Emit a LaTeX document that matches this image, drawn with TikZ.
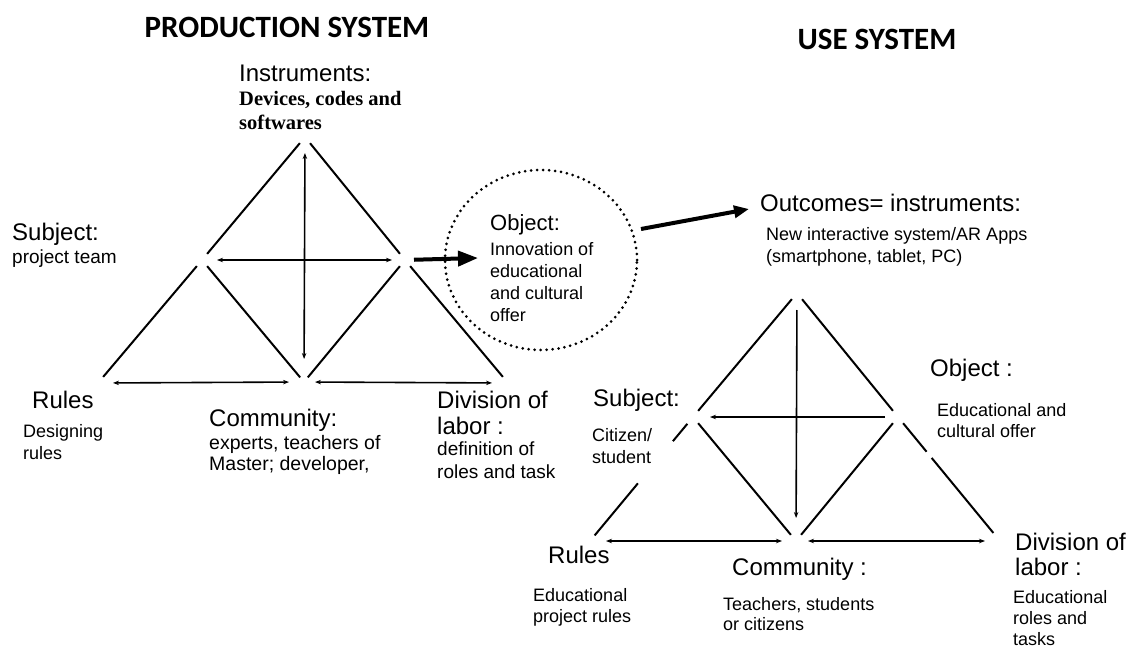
\documentclass[tikz,border=0pt]{standalone}
\usepackage{fontspec}
\setmainfont{Liberation Sans}
\newfontfamily\titlefont{Carlito}
\newfontfamily\timesfont{Liberation Serif}
\usetikzlibrary{arrows.meta,shapes.geometric,calc}
\begin{document}
\begin{tikzpicture}[x=1pt,y=-1pt,
  edge/.style={line width=2pt, shorten <=8pt, shorten >=8pt},
  seg/.style={line width=2pt},
  tip/.tip={Stealth[length=6pt,width=4.5pt]},
  dbl/.style={line width=1.6pt, tip-tip},
  sgl/.style={line width=1.6pt, -tip},
  bigarrow/.style={line width=4pt, -{Triangle[length=20pt,width=15pt]}},
  medarrow/.style={line width=4pt, -{Triangle[length=15pt,width=12pt]}},
  dots/.style={draw, line width=3pt, dash pattern=on 0pt off 6pt, line cap=round},
  ttl/.style={font=\titlefont\bfseries\fontsize{31}{34}\selectfont, inner sep=0pt, anchor=base},
  head/.style={font=\fontsize{24}{26}\selectfont, inner sep=0pt, align=left, anchor=base west},
  desc/.style={font=\fontsize{18}{22}\selectfont, inner sep=0pt, align=left, anchor=base west},
  tdesc/.style={font=\timesfont\bfseries\fontsize{20.5}{24}\selectfont, inner sep=0pt, align=left, anchor=base west}
]
\useasboundingbox (0,0) rectangle (1131,650);
\fill[white] (0,0) rectangle (1131,650);

% titles
\node[ttl] (ptitle) at (287,38) {PRODUCTION SYSTEM};
\node[ttl] (utitle) at (877,50) {USE SYSTEM};

% ---------------- production system ----------------
\coordinate (LA) at (305,137);
\coordinate (LS) at (202,260);
\coordinate (LO) at (405,260);
\coordinate (LR) at (98,383);
\coordinate (LC) at (304,382);
\coordinate (LD) at (508,383);

\draw[edge] (LA) -- (LS);
\draw[edge] (LA) -- (LO);
\draw[edge] (LS) -- (LR);
\draw[edge, shorten >=6pt] (LS) -- (LC);
\draw[edge, shorten >=6pt] (LO) -- (LC);
\draw[edge] (LO) -- (LD);
\draw[dbl, shorten <=16pt, shorten >=23pt] (LA) -- (LC);
\draw[dbl, shorten <=15pt, shorten >=13pt] (LS) -- (LO);
\draw[dbl, shorten <=15pt, shorten >=15pt] (LR) -- (LC);
\draw[dbl, shorten <=11pt, shorten >=16pt] (LC) -- (LD);

\node[head] (Linst) at (239,82) {Instruments:};
\node[tdesc] (Linstd) at (239,129) {Devices, codes and\\softwares};
\node[head] (Lsubj) at (12,240) {Subject:};
\node[desc, font=\fontsize{19}{22}\selectfont] (Lsubjd) at (12,263) {project team};
\node[head] (Lrule) at (32,408) {Rules};
\node[desc] (Lruled) at (23,459) {Designing\\rules};
\node[head] (Lcomm) at (209,426) {Community:};
\node[desc, font=\fontsize{19.5}{21}\selectfont] (Lcommd) at (209,470) {experts, teachers of\\Master; developer,};
\node[head] (Ldiv) at (437,434) {Division of\\labor :};
\node[desc, font=\fontsize{19}{23}\selectfont] (Ldivd) at (437,478) {definition of\\roles and task};

% object circle
\node[dots, ellipse, minimum width=192pt, minimum height=180pt] (circ) at (541,260) {};
\node[desc, font=\fontsize{22}{26}\selectfont] (Cobj) at (490,230) {Object:};
\node[desc] (Cobjd) at (490,321) {Innovation of\\educational\\and cultural\\offer};
\coordinate (T1) at (478,258);
\draw[bigarrow, shorten <=9pt] (LO) -- (T1);
\coordinate (T2s) at (641,229);
\coordinate (T2e) at (749,209);
\draw[medarrow] (T2s) -- (T2e);

% ---------------- use system ----------------
\coordinate (RA) at (797,293);
\coordinate (RS) at (693,417);
\coordinate (RO) at (898,417);
\coordinate (RR) at (590,541);
\coordinate (RC) at (796,541);
\coordinate (RD) at (1000,541);

\draw[edge] (RA) -- (RS);
\draw[edge] (RA) -- (RO);
\draw[seg] ($(RS)!0.055!(RR)$) -- ($(RS)!0.195!(RR)$);
\draw[seg] ($(RS)!0.535!(RR)$) -- ($(RS)!0.955!(RR)$);
\draw[edge] (RS) -- (RC);
\draw[edge] (RO) -- (RC);
\draw[seg] ($(RO)!0.05!(RD)$) -- ($(RO)!0.28!(RD)$);
\draw[seg] ($(RO)!0.33!(RD)$) -- ($(RO)!0.935!(RD)$);
\draw[sgl, shorten <=17pt, shorten >=23pt] (RA) -- (RC);
\draw[sgl, shorten <=13pt, shorten >=17pt] (RO) -- (RS);
\draw[dbl, shorten <=16pt, shorten >=14pt] (RR) -- (RC);
\draw[dbl, shorten <=12pt, shorten >=15pt] (RC) -- (RD);

\node[head] (Rout) at (760,211) {Outcomes= instruments:};
\node[desc] (Routd) at (766,262) {New interactive system/AR Apps\\(smartphone, tablet, PC)};
\node[head] (Rsubj) at (593,406) {Subject:};
\node[desc] (Rsubjd) at (592,463) {Citizen/\\student};
\node[head] (Robj) at (930,376) {Object :};
\node[desc, font=\fontsize{18}{21}\selectfont] (Robjd) at (937,437) {Educational and\\cultural offer};
\node[head] (Rrule) at (548,563) {Rules};
\node[desc, font=\fontsize{18}{21}\selectfont] (Rruled) at (533,622) {Educational\\project rules};
\node[head] (Rcomm) at (732,575) {Community :};
\node[desc, font=\fontsize{18}{20}\selectfont] (Rcommd) at (723,630) {Teachers, students\\or citizens};
\node[head, font=\fontsize{24}{25}\selectfont] (Rdiv) at (1015,575) {Division of\\labor :};
\node[desc, font=\fontsize{18}{21}\selectfont] (Rdivd) at (1013,645) {Educational\\roles and\\tasks};
\end{tikzpicture}
\end{document}
